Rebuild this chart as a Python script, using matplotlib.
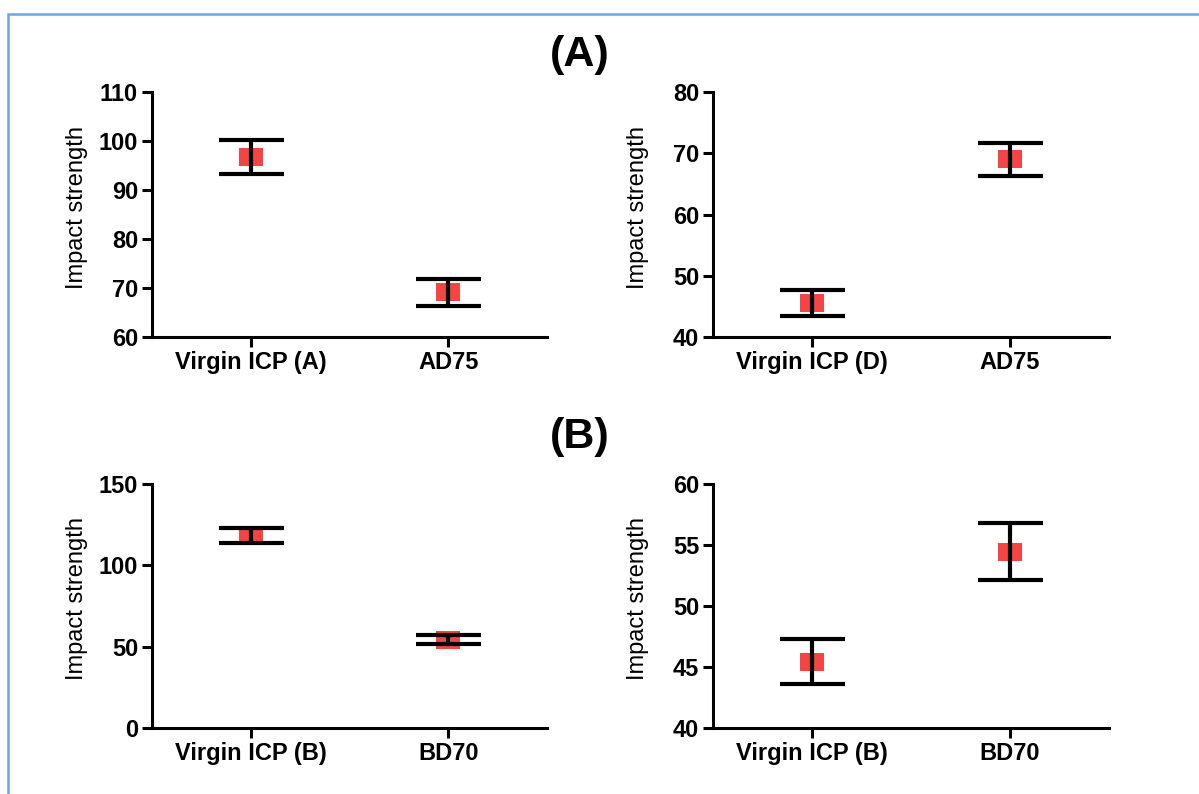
import numpy as np
import matplotlib
matplotlib.use("Agg")
import matplotlib.pyplot as plt
from matplotlib.path import Path
from matplotlib.patches import Rectangle

plt.rcParams['font.family'] = ['Liberation Sans', 'DejaVu Sans']

# panel data: tick labels, means, errors
labels_a1 = ["Virgin ICP (A)", "AD75"]
means_a1 = [96.7, 69.1]
errs_a1 = [3.5, 2.75]

labels_a2 = ["Virgin ICP (D)", "AD75"]
means_a2 = [45.5, 69.0]
errs_a2 = [2.15, 2.75]

labels_b1 = ["Virgin ICP (B)", "BD70"]
means_b1 = [118.3, 54.3]
errs_b1 = [4.4, 2.7]

labels_b2 = ["Virgin ICP (B)", "BD70"]
means_b2 = [45.45, 54.45]
errs_b2 = [1.87, 2.35]

ylims = [(60, 110), (40, 80), (0, 150), (40, 60)]
yticks = [[60, 70, 80, 90, 100, 110], [40, 50, 60, 70, 80],
          [0, 50, 100, 150], [40, 45, 50, 55, 60]]

fig = plt.figure(figsize=(11.99, 7.94), dpi=100)

# light blue frame around the figure
fig.patches.append(Rectangle((8 / 1199, -0.01), 1.2, 1 - 14 / 794 + 0.01,
                             transform=fig.transFigure, fill=False,
                             edgecolor='#6fa5dc', linewidth=1.8))

rect = Path([(-1, -0.74), (1, -0.74), (1, 0.74), (-1, 0.74), (-1, -0.74)],
            [Path.MOVETO, Path.LINETO, Path.LINETO, Path.LINETO, Path.CLOSEPOLY])

positions = [
    [152 / 1199, 1 - 337 / 794, 395 / 1199, 245 / 794],
    [713 / 1199, 1 - 337 / 794, 396 / 1199, 245 / 794],
    [152 / 1199, 1 - 728 / 794, 395 / 1199, 244 / 794],
    [713 / 1199, 1 - 728 / 794, 396 / 1199, 244 / 794],
]
panels = [(labels_a1, means_a1, errs_a1), (labels_a2, means_a2, errs_a2),
          (labels_b1, means_b1, errs_b1), (labels_b2, means_b2, errs_b2)]

for i, (labels, means, errs) in enumerate(panels):
    ax = fig.add_axes(positions[i])
    x = np.arange(len(labels))
    ax.plot(x, means, linestyle='none', marker=rect, markersize=16.6,
            color='#f44444', markeredgewidth=0, zorder=2)
    ax.errorbar(x, means, yerr=errs, fmt='none', ecolor='black',
                elinewidth=3.0, capsize=23.4, capthick=3.0, zorder=3)
    ax.set_xlim(-0.5, 1.5)
    ax.set_ylim(*ylims[i])
    ax.set_yticks(yticks[i])
    ax.set_xticks(x)
    ax.set_xticklabels(labels, fontsize=17, fontweight='bold')
    for t in ax.get_yticklabels():
        t.set_fontsize(17)
        t.set_fontweight('bold')
    ax.set_ylabel("Impact strength", fontsize=17)
    ax.yaxis.set_label_coords(-0.162, 0.53)
    for s in ['top', 'right']:
        ax.spines[s].set_visible(False)
    for s in ['left', 'bottom']:
        ax.spines[s].set_linewidth(2.2)
    ax.tick_params(axis='both', length=7, width=2.2, pad=3)

fig.text(580 / 1199, 1 - 55 / 794, "(A)", fontsize=31, fontweight='bold',
         ha='center', va='center')
fig.text(580 / 1199, 1 - 437 / 794, "(B)", fontsize=31, fontweight='bold',
         ha='center', va='center')

fig.savefig("out.png", dpi=100)
